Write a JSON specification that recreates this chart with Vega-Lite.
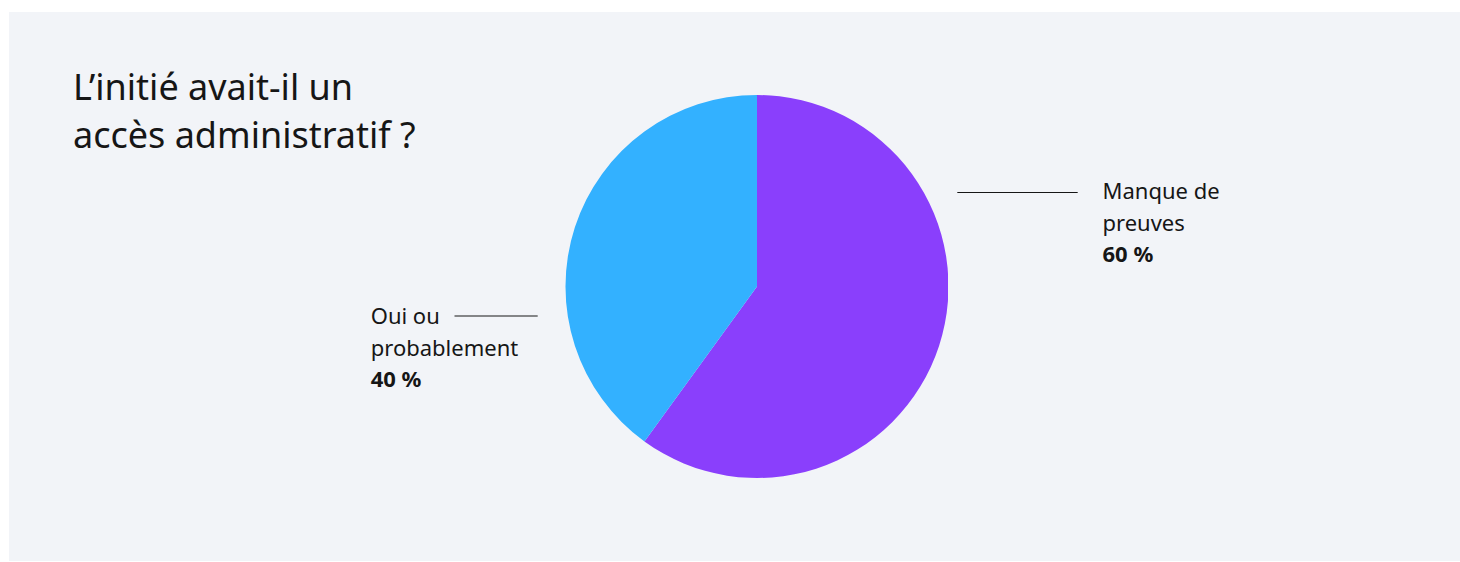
{
  "$schema": "https://vega.github.io/schema/vega-lite/v6.json",
  "background": "#ffffff",
  "padding": {"left": 9, "top": 12, "right": 0, "bottom": 0},
  "autosize": {"type": "pad"},
  "bounds": "flush",
  "spacing": 0,
  "config": {
    "view": {"stroke": null, "fill": "#f2f4f8"},
    "text": {"font": "Noto Sans", "color": "#161616"}
  },
  "data": {
    "values": [
      {"category": "Manque de preuves", "value": 60, "label": ["Manque de", "preuves"], "pct": "60 %"},
      {"category": "Oui ou probablement", "value": 40, "label": ["Oui ou", "probablement"], "pct": "40 %"}
    ]
  },
  "hconcat": [
    {
      "width": 557,
      "height": 549,
      "view": {"fill": "#f2f4f8", "stroke": null},
      "layer": [
        {
          "data": {"values": [{"title": ["L’initié avait-il un", "accès administratif ?"]}]},
          "mark": {"type": "text", "align": "left", "baseline": "alphabetic", "fontSize": 36, "lineHeight": 48},
          "encoding": {
            "text": {"field": "title"},
            "x": {"value": 64},
            "y": {"value": 88}
          }
        },
        {
          "transform": [{"filter": "datum.category === 'Oui ou probablement'"}],
          "mark": {"type": "text", "align": "left", "baseline": "alphabetic", "fontSize": 22, "lineHeight": 31.5},
          "encoding": {
            "text": {"field": "label"},
            "x": {"value": 361.7},
            "y": {"value": 312.3}
          }
        },
        {
          "transform": [{"filter": "datum.category === 'Oui ou probablement'"}],
          "mark": {"type": "text", "align": "left", "baseline": "alphabetic", "fontSize": 22, "fontWeight": "bold"},
          "encoding": {
            "text": {"field": "pct"},
            "x": {"value": 361.7},
            "y": {"value": 374.7}
          }
        },
        {
          "transform": [{"filter": "datum.category === 'Oui ou probablement'"}],
          "mark": {"type": "rule", "color": "#161616", "strokeWidth": 1},
          "encoding": {
            "x": {"value": 445.5},
            "x2": {"value": 528.7},
            "y": {"value": 304}
          }
        }
      ]
    },
    {
      "width": 382,
      "height": 549,
      "view": {"fill": "#f2f4f8", "stroke": null},
      "layer": [
        {
          "mark": {"type": "arc", "radius": 191.5, "stroke": null},
          "encoding": {
            "theta": {"field": "value", "type": "quantitative", "stack": true},
            "order": {"field": "category", "sort": "ascending"},
            "color": {
              "field": "category",
              "type": "nominal",
              "scale": {"domain": ["Manque de preuves", "Oui ou probablement"], "range": ["#8a3ffc", "#33b1ff"]},
              "legend": null
            }
          }
        }
      ]
    },
    {
      "width": 512,
      "height": 549,
      "view": {"fill": "#f2f4f8", "stroke": null},
      "layer": [
        {
          "transform": [{"filter": "datum.category === 'Manque de preuves'"}],
          "mark": {"type": "text", "align": "left", "baseline": "alphabetic", "fontSize": 22, "lineHeight": 32},
          "encoding": {
            "text": {"field": "label"},
            "x": {"value": 154.5},
            "y": {"value": 187.3}
          }
        },
        {
          "transform": [{"filter": "datum.category === 'Manque de preuves'"}],
          "mark": {"type": "text", "align": "left", "baseline": "alphabetic", "fontSize": 22, "fontWeight": "bold"},
          "encoding": {
            "text": {"field": "pct"},
            "x": {"value": 154.5},
            "y": {"value": 249.7}
          }
        },
        {
          "transform": [{"filter": "datum.category === 'Manque de preuves'"}],
          "mark": {"type": "rule", "color": "#161616", "strokeWidth": 1},
          "encoding": {
            "x": {"value": 9.3},
            "x2": {"value": 129.7},
            "y": {"value": 180.5}
          }
        }
      ]
    }
  ]
}
